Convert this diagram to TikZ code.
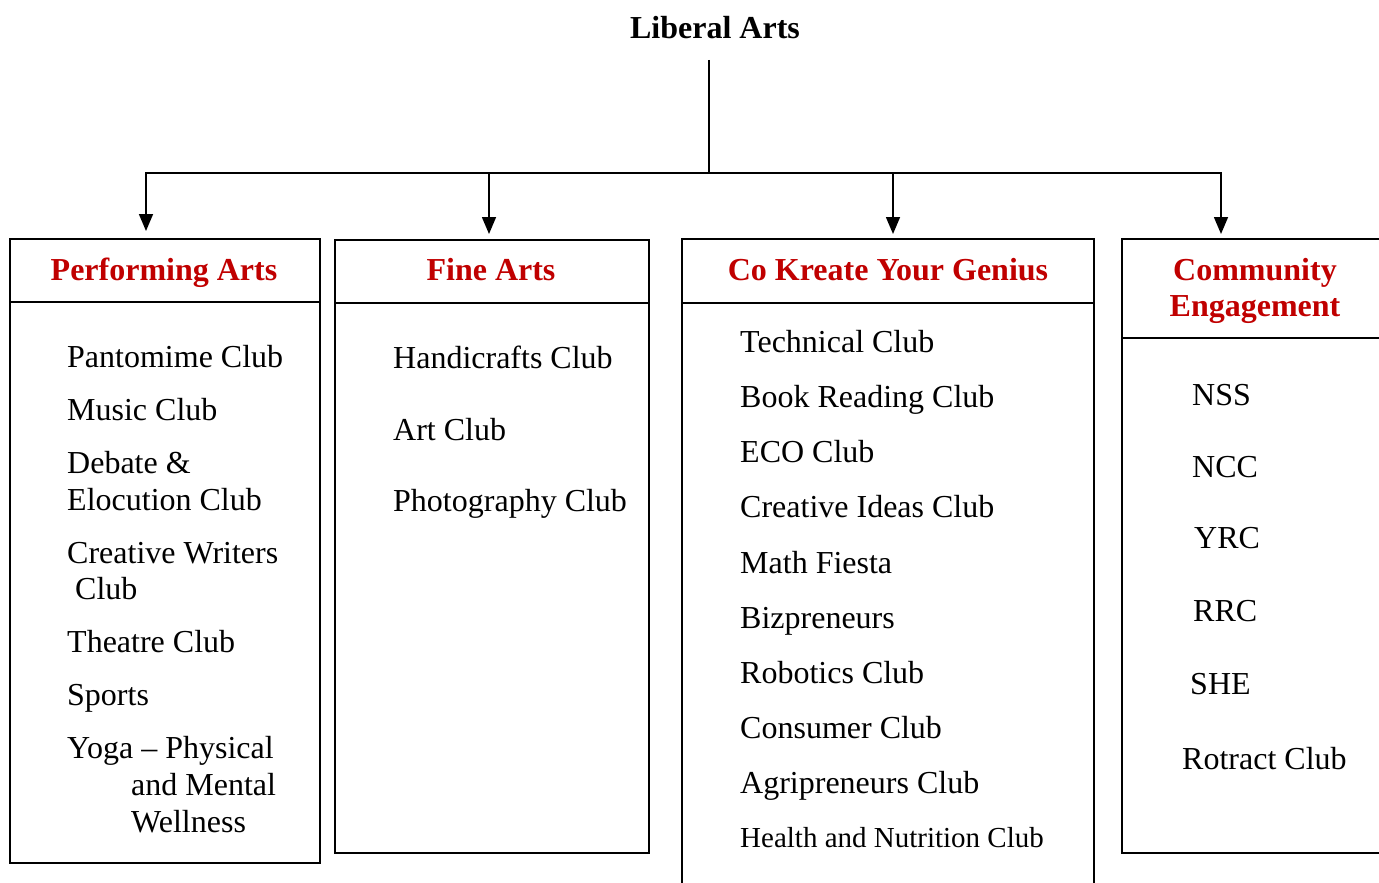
\documentclass[tikz,border=0pt]{standalone}
\usepackage{fontspec}
\setmainfont{Liberation Serif}
\usetikzlibrary{arrows.meta}
\definecolor{hdred}{RGB}{192,0,0}
\begin{document}
\begin{tikzpicture}[x=1pt,y=-1pt,
  box/.style={draw=black,line width=1.6pt,rectangle,inner sep=0pt,anchor=north west},
  conn/.style={draw=black,line width=1.6pt},
  arr/.style={conn,-{Triangle[length=17pt,width=14pt]}},
  item/.style={anchor=base west,inner sep=0pt,yshift=-1.5pt,font=\fontsize{32}{38}\selectfont},
  smallitem/.style={item,font=\fontsize{29}{35}\selectfont},
  head/.style={anchor=base,inner sep=0pt,yshift=-1pt,text=hdred,font=\fontsize{32}{36}\selectfont\bfseries,align=center},
  ttl/.style={anchor=base,inner sep=0pt,yshift=-2pt,font=\fontsize{32}{38}\selectfont\bfseries}
]
\useasboundingbox (0,0) rectangle (1379,883);

% title
\node[ttl] (title) at (715,37) {Liberal Arts};

% boxes
\node[box,minimum width=310pt,minimum height=63pt] (h1) at (9,238) {};
\node[box,minimum width=310pt,minimum height=561pt] (b1) at (9,301) {};
\node[box,minimum width=314pt,minimum height=63pt] (h2) at (334,239) {};
\node[box,minimum width=314pt,minimum height=550pt] (b2) at (334,302) {};
\node[box,minimum width=412pt,minimum height=64pt] (h3) at (681,238) {};
\node[box,minimum width=412pt,minimum height=640pt] (b3) at (681,302) {};
\node[box,minimum width=300pt,minimum height=99pt] (h4) at (1121,238) {};
\node[box,minimum width=300pt,minimum height=515pt] (b4) at (1121,337) {};

% connectors
\coordinate (top) at (709,60);
\coordinate (jn) at (709,173);
\coordinate (a1) at (146,231);
\coordinate (a2) at (489,234);
\coordinate (a3) at (893,234);
\coordinate (a4) at (1221,234);
\draw[conn] (top) -- (jn);
\draw[arr] (jn) -| (a1);
\draw[arr] (jn) -| (a2);
\draw[arr] (jn) -| (a3);
\draw[arr] (jn) -| (a4);

% headers
\node[head] (t1) at (164,279) {Performing Arts};
\node[head] (t2) at (491,279) {Fine Arts};
\node[head] (t3) at (888,279) {Co Kreate Your Genius};
\node[head] (t4a) at (1255,279) {Community};
\node[head] (t4b) at (1255,315) {Engagement};

% box 1
\node[item] (p1) at (67,366) {Pantomime Club};
\node[item] (p2) at (67,419) {Music Club};
\node[item] (p3) at (67,472) {Debate \&};
\node[item] (p3b) at (67,509) {Elocution Club};
\node[item] (p4) at (67,562) {Creative Writers};
\node[item] (p4b) at (75,598) {Club};
\node[item] (p5) at (67,651) {Theatre Club};
\node[item] (p6) at (67,704) {Sports};
\node[item] (p7) at (67,757) {Yoga -- Physical};
\node[item] (p7b) at (131,794) {and Mental};
\node[item] (p7c) at (131,831) {Wellness};

% box 2
\node[item] (f1) at (393,367) {Handicrafts Club};
\node[item] (f2) at (393,439) {Art Club};
\node[item] (f3) at (393,510) {Photography Club};

% box 3
\node[item] (c1) at (740,351) {Technical Club};
\node[item] (c2) at (740,406) {Book Reading Club};
\node[item] (c3) at (740,461) {ECO Club};
\node[item] (c4) at (740,516) {Creative Ideas Club};
\node[item] (c5) at (740,572) {Math Fiesta};
\node[item] (c6) at (740,627) {Bizpreneurs};
\node[item] (c7) at (740,682) {Robotics Club};
\node[item] (c8) at (740,737) {Consumer Club};
\node[item] (c9) at (740,792) {Agripreneurs Club};
\node[smallitem] (c10) at (740,846) {Health and Nutrition Club};

% box 4
\node[item] (e1) at (1192,404) {NSS};
\node[item] (e2) at (1192,476) {NCC};
\node[item] (e3) at (1194,547) {YRC};
\node[item] (e4) at (1193,620) {RRC};
\node[item] (e5) at (1190,693) {SHE};
\node[item] (e6) at (1182,768) {Rotract Club};
\end{tikzpicture}
\end{document}
